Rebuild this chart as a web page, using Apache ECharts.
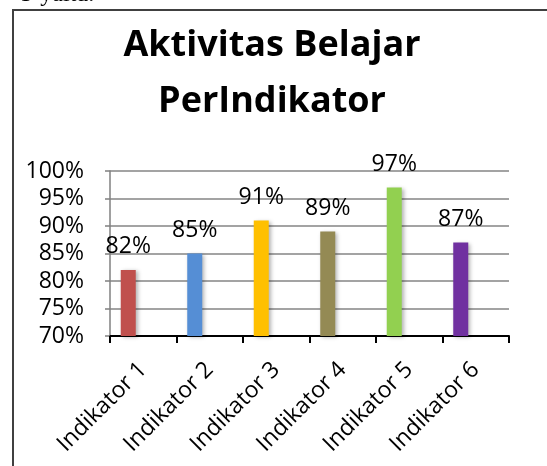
<!DOCTYPE html>
<html>
<head>
<meta charset="utf-8">
<script src="https://cdn.jsdelivr.net/npm/echarts@6/dist/echarts.min.js"></script>
<style>
  html, body { margin: 0; padding: 0; background: #fff; }
  #chart { width: 547px; height: 466px; }
</style>
</head>
<body>
<div id="chart"></div>
<script>
var categories = ['Indikator 1', 'Indikator 2', 'Indikator 3', 'Indikator 4', 'Indikator 5', 'Indikator 6']
var values = [82, 85, 91, 89, 97, 87]
var barColors = ['#C0504D', '#558ED5', '#FFC000', '#948A54', '#92D050', '#7030A0']
var yTicks = { min: 70, max: 100, step: 5 }

var chart = echarts.init(document.getElementById('chart'))
var font = '"Open Sans", "Noto Sans", sans-serif'

chart.setOption({
  animation: false,
  title: {
    text: 'Aktivitas Belajar\nPerIndikator',
    left: 267,
    textAlign: 'center',
    top: 13,
    textStyle: {
      fontFamily: font,
      fontSize: 36,
      fontWeight: 'bold',
      lineHeight: 56,
      color: '#000'
    }
  },
  graphic: [
    {
      type: 'rect',
      shape: { x: 13, y: 10, width: 600, height: 500 },
      style: { fill: 'none', stroke: '#404040', lineWidth: 2 }
    },
    {
      type: 'text',
      left: 17,
      top: -17,
      style: { text: 'Y yaitu.', font: '24px "Liberation Serif", serif', fill: '#000' }
    }
  ],
  grid: {
    left: 110,
    right: 38,
    top: 171,
    bottom: 130
  },
  xAxis: {
    type: 'category',
    data: categories,
    axisLine: { lineStyle: { color: '#000', width: 2 } },
    axisTick: { show: true, length: 7, lineStyle: { color: '#000', width: 2 } },
    axisLabel: {
      rotate: 45,
      margin: 30,
      fontFamily: font,
      fontSize: 23,
      color: '#000'
    }
  },
  yAxis: {
    type: 'value',
    min: yTicks.min,
    max: yTicks.max,
    interval: yTicks.step,
    axisLine: { show: true, lineStyle: { color: '#808080', width: 1.5 } },
    axisTick: { show: true, length: 5, lineStyle: { color: '#808080', width: 1.5 } },
    splitLine: { lineStyle: { color: '#858585', width: 1.5 } },
    axisLabel: {
      margin: 26,
      formatter: '{value}%',
      fontFamily: font,
      fontSize: 23,
      color: '#000'
    }
  },
  series: [
    {
      type: 'bar',
      data: values,
      barWidth: 15,
      barGap: '0%',
      itemStyle: {
        color: function(p) { return barColors[p.dataIndex] },
        shadowColor: 'rgba(0,0,0,0.3)',
        shadowBlur: 4,
        shadowOffsetX: 2,
        shadowOffsetY: 1
      },
      label: {
        show: true,
        position: 'top',
        distance: 12,
        formatter: '{c}%',
        fontFamily: font,
        fontSize: 23,
        color: '#000'
      }
    },
    // empty series, keeps the bars left of the category centre like the original
    { type: 'bar', data: [], barWidth: 15, barGap: '0%' },
    { type: 'bar', data: [], barWidth: 15, barGap: '0%' }
  ]
})
</script>
</body>
</html>
